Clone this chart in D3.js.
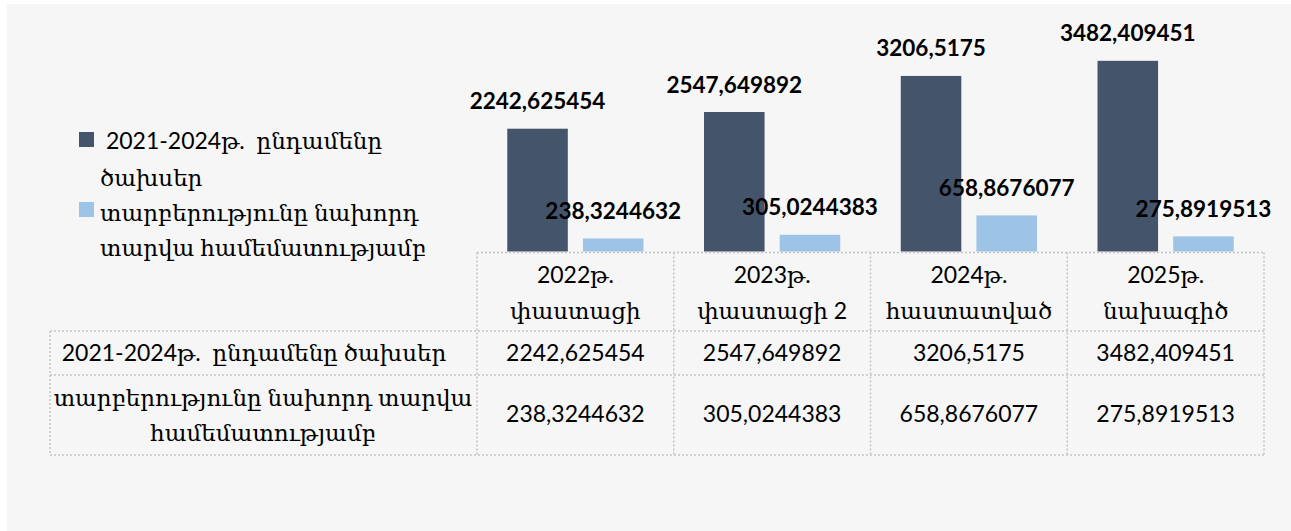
<!DOCTYPE html>
<html>
<head>
<meta charset="utf-8">
<script src="https://cdn.jsdelivr.net/npm/d3@7"></script>
<style>
  html, body { margin: 0; padding: 0; background: #ffffff; }
  svg { display: block; }
  text { font-family: Lato, "DejaVu Serif", "DejaVu Sans", sans-serif; fill: #000; }
</style>
</head>
<body>
<svg id="chart" width="1291" height="531"></svg>
<script>
// ---- data ----
const categories = ["2022թ. փաստացի", "2023թ. փաստացի 2", "2024թ. հաստատված", "2025թ. նախագիծ"];
const categoryLines = [["2022թ.", "փաստացի"], ["2023թ.", "փաստացի 2"], ["2024թ.", "հաստատված"], ["2025թ.", "նախագիծ"]];
const seriesNames = ["2021-2024թ.  ընդամենը ծախսեր", "տարբերությունը նախորդ տարվա համեմատությամբ"];
const legendLines = [[" 2021-2024թ.  ընդամենը", "ծախսեր"], ["տարբերությունը նախորդ", "տարվա համեմատությամբ"]];
const tableRowLines = [["2021-2024թ.  ընդամենը ծախսեր"], ["տարբերությունը նախորդ տարվա", "համեմատությամբ"]];
const totalSpending = [2242.625454, 2547.649892, 3206.5175, 3482.409451];
const difference = [238.3244632, 305.0244383, 658.8676077, 275.8919513];
const yDomain = [0, 4000];
const seriesColors = ["#44546a", "#9dc3e6"];

const fmt = v => String(v).replace(".", ",");
const seriesValues = [totalSpending, difference];

const svg = d3.select("#chart");
const W = 1291, H = 531;

// panel
svg.append("rect").attr("x", 7).attr("y", 4).attr("width", W - 7).attr("height", H - 4).attr("fill", "#f6f6f6");

// scales
const tableLeft = 50, colLeft = 477, colRight = 1264;
const x = d3.scaleBand().domain(categories).range([colLeft, colRight]).paddingInner(0).paddingOuter(0);
const xs = d3.scaleBand().domain([0, 1]).range([0, x.bandwidth()]).paddingInner(0.2).paddingOuter(0.4);
const baseY = 251.5;
const y = d3.scaleLinear().domain(yDomain).range([baseY, 32.5]);

// bars
seriesValues.forEach((vals, si) => {
  const g = svg.append("g");
  g.selectAll("rect").data(vals).join("rect")
    .attr("x", (d, i) => x(categories[i]) + xs(si))
    .attr("y", d => y(d))
    .attr("width", xs.bandwidth())
    .attr("height", d => y(0) - y(d))
    .attr("fill", seriesColors[si]);
  g.selectAll("text").data(vals).join("text")
    .attr("x", (d, i) => x(categories[i]) + xs(si) + xs.bandwidth() / 2)
    .attr("y", d => y(d) - 19.5)
    .attr("text-anchor", "middle")
    .attr("font-weight", "bold")
    .attr("font-size", 22.5)
    .text(d => fmt(d));
});

// legend
const legendY = [[141, 178], [213, 248]];
const legendSq = [132, 202];
seriesNames.forEach((name, si) => {
  svg.append("rect").attr("x", 79).attr("y", legendSq[si]).attr("width", 15).attr("height", 15).attr("fill", seriesColors[si]);
  legendLines[si].forEach((ln, li) => {
    svg.append("text").attr("x", 100).attr("y", legendY[si][li] + 8)
      .attr("font-size", 23).attr("xml:space", "preserve").style("white-space", "pre").text(ln);
  });
});

// data table grid
const lineStyle = sel => sel.attr("stroke", "#c4c4c4").attr("stroke-width", 1.5).attr("stroke-dasharray", "2,2").attr("fill", "none");
const rowY = [252.5, 331, 375, 455];
const grid = svg.append("g");
lineStyle(grid.append("line").attr("x1", colLeft).attr("x2", colRight).attr("y1", rowY[0]).attr("y2", rowY[0]));
rowY.slice(1).forEach(yy => lineStyle(grid.append("line").attr("x1", tableLeft).attr("x2", colRight).attr("y1", yy).attr("y2", yy)));
categories.forEach(c => lineStyle(grid.append("line").attr("x1", x(c)).attr("x2", x(c)).attr("y1", rowY[0]).attr("y2", rowY[3])));
lineStyle(grid.append("line").attr("x1", colRight).attr("x2", colRight).attr("y1", rowY[0]).attr("y2", rowY[3]));
lineStyle(grid.append("line").attr("x1", tableLeft).attr("x2", tableLeft).attr("y1", rowY[1]).attr("y2", rowY[3]));

// header labels
const headY = [275, 311];
categories.forEach((c, i) => {
  categoryLines[i].forEach((ln, li) => {
    svg.append("text").attr("x", x(c) + x.bandwidth() / 2).attr("y", headY[li] + 8)
      .attr("text-anchor", "middle").attr("font-size", 23).text(ln);
  });
});

// row labels
const rowCenters = [353, 414];
const rowLabelY = [[353], [398, 433]];
const rowLabelX = [254, 263];
tableRowLines.forEach((lines, ri) => {
  lines.forEach((ln, li) => {
    svg.append("text").attr("x", rowLabelX[ri]).attr("y", rowLabelY[ri][li] + 8)
      .attr("text-anchor", "middle").attr("font-size", 23).attr("xml:space", "preserve").style("white-space", "pre").text(ln);
  });
});

// values in table
seriesValues.forEach((vals, si) => {
  vals.forEach((v, i) => {
    svg.append("text").attr("x", x(categories[i]) + x.bandwidth() / 2).attr("y", rowCenters[si] + 8)
      .attr("text-anchor", "middle").attr("font-size", 23).text(fmt(v));
  });
});
</script>
</body>
</html>
